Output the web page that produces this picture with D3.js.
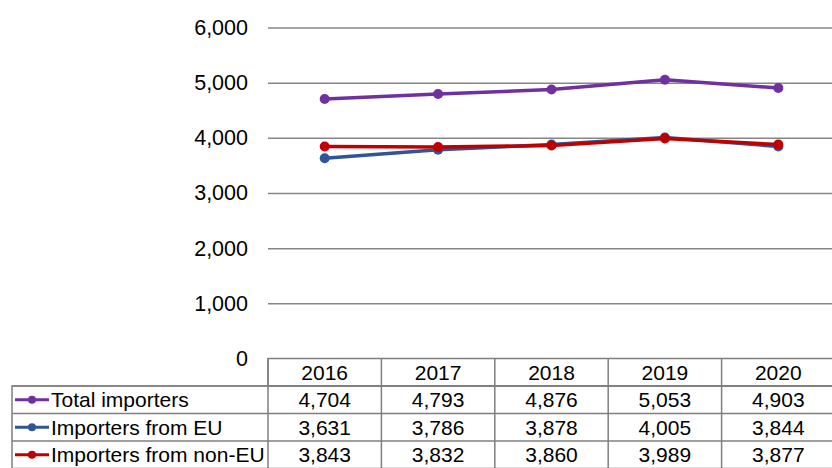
<!DOCTYPE html>
<html>
<head>
<meta charset="utf-8">
<script src="https://cdn.jsdelivr.net/npm/d3@7"></script>
<style>
  body { margin: 0; background: #fff; }
  svg { display: block; font-family: "Liberation Sans", Arial, sans-serif; }
</style>
</head>
<body>
<div id="chart"></div>
<script>
// data
const years = ["2016", "2017", "2018", "2019", "2020"]
const seriesNames = ["Total importers", "Importers from EU", "Importers from non-EU"]
const totalImporters = [4704, 4793, 4876, 5053, 4903]
const importersEU = [3631, 3786, 3878, 4005, 3844]
const importersNonEU = [3843, 3832, 3860, 3989, 3877]
const yTicks = [0, 1000, 2000, 3000, 4000, 5000, 6000]

const colors = ["#7030a0", "#2f5597", "#c00000"]
const seriesValues = [totalImporters, importersEU, importersNonEU]

const width = 832
const height = 468

const svg = d3.select('div#chart').append('svg').attr('width', width).attr('height', height)

// x is one band per year, the table columns share the same bands
const xScale = d3.scaleBand().domain(years).range([268, 835]).padding(0)
const yScale = d3.scaleLinear().domain([0, 6000]).range([358.5, 27.5])

// gridlines + labels
const yAxis = d3.axisLeft(yScale).tickValues(yTicks).tickFormat(d3.format(',')).tickSize(-(width - 268)).tickPadding(20)
const gy = svg.append('g').attr('transform', 'translate(268,0)').call(yAxis)
gy.attr('font-size', 21.5).attr('font-family', '"Liberation Sans", Arial, sans-serif')
gy.select('.domain').remove()
gy.selectAll('.tick line').attr('stroke', '#868686').attr('stroke-width', 1.5)
gy.selectAll('.tick text').attr('fill', '#000')
gy.selectAll('.tick').filter(d => d === 0).select('line').remove()

// lines
const line = d3.line().x((d, i) => xScale(years[i]) + xScale.bandwidth() / 2).y(d => yScale(d))
seriesValues.forEach(function(vals, k) {
  svg.append('path').datum(vals)
     .attr('d', line)
     .attr('fill', 'none')
     .attr('stroke', colors[k])
     .attr('stroke-width', 3.5)
     .attr('stroke-linejoin', 'round')
  svg.selectAll('circle.s' + k).data(vals).enter()
     .append('circle')
     .attr('class', 's' + k)
     .attr('cx', (d, i) => xScale(years[i]) + xScale.bandwidth() / 2)
     .attr('cy', d => yScale(d))
     .attr('r', 5)
     .attr('fill', colors[k])
})

// data table
const tableTop = 358.5
const rowH = 27.5
const labelLeft = 12
const border = '#7f7f7f'
const fs = 21
const table = svg.append('g')

// header row (no label cell)
table.append('rect').attr('x', 268).attr('y', tableTop).attr('width', 835 - 268).attr('height', rowH)
     .attr('fill', 'none').attr('stroke', border).attr('stroke-width', 1.5)
// body rows
table.append('rect').attr('x', labelLeft).attr('y', tableTop + rowH).attr('width', 835 - labelLeft).attr('height', rowH * 3)
     .attr('fill', 'none').attr('stroke', border).attr('stroke-width', 1.5)
for (let r = 1; r <= 3; r++) {
  table.append('line').attr('x1', labelLeft).attr('x2', 835)
       .attr('y1', tableTop + rowH * r).attr('y2', tableTop + rowH * r)
       .attr('stroke', border).attr('stroke-width', 1.5)
}
years.forEach(function(y) {
  table.append('line').attr('x1', xScale(y)).attr('x2', xScale(y))
       .attr('y1', tableTop).attr('y2', tableTop + rowH * 4)
       .attr('stroke', border).attr('stroke-width', 1.5)
  table.append('text').attr('x', xScale(y) + xScale.bandwidth() / 2).attr('y', tableTop + rowH / 2)
       .attr('dy', '0.35em').attr('text-anchor', 'middle').attr('font-size', fs).text(y)
})

const fmt = d3.format(',')
seriesNames.forEach(function(name, k) {
  const cy = tableTop + rowH * (k + 1) + rowH / 2
  table.append('line').attr('x1', 15).attr('x2', 49).attr('y1', cy).attr('y2', cy)
       .attr('stroke', colors[k]).attr('stroke-width', 3)
  table.append('circle').attr('cx', 32).attr('cy', cy).attr('r', 4).attr('fill', colors[k])
  table.append('text').attr('x', 51).attr('y', cy).attr('dy', '0.35em').attr('font-size', fs).text(name)
  seriesValues[k].forEach(function(v, i) {
    table.append('text').attr('x', xScale(years[i]) + xScale.bandwidth() / 2).attr('y', cy)
         .attr('dy', '0.35em').attr('text-anchor', 'middle').attr('font-size', fs).text(fmt(v))
  })
})
</script>
</body>
</html>
